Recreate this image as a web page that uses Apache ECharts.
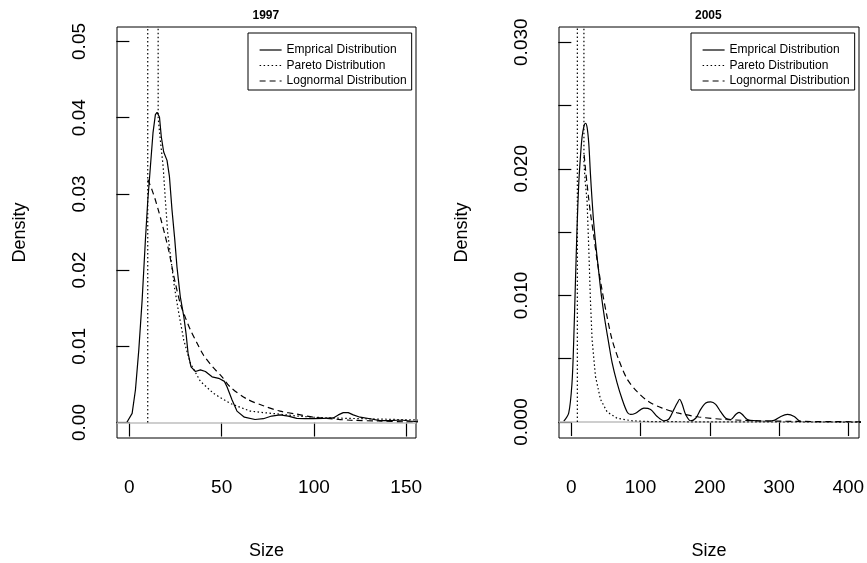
<!DOCTYPE html>
<html>
<head>
<meta charset="utf-8">
<script src="https://cdn.jsdelivr.net/npm/echarts@6/dist/echarts.min.js"></script>
<style>
html,body{margin:0;padding:0;background:#fff;}
#chart{width:867px;height:563px;}
</style>
</head>
<body>
<div id="chart"></div>
<script>
// ---------- DATA ----------
const panelTitles = ['1997', '2005'];
const seriesNames = ['Emprical Distribution', 'Pareto Distribution', 'Lognormal Distribution'];

const xTicks1997 = [0, 50, 100, 150];
const yTicks1997 = [0, 0.01, 0.02, 0.03, 0.04, 0.05];
const xTicks2005 = [0, 100, 200, 300, 400];
const yTicks2005 = [0, 0.005, 0.01, 0.015, 0.02, 0.025, 0.03];
const yLabels2005 = [0, 0.01, 0.02, 0.03];

const emp1997 = [[-1.4,0],[1.5,0.0012],[3.3,0.0043],[5.1,0.0095],[6.9,0.016],[8.7,0.024],[10.0,0.0292],[11.4,0.0336],[12.8,0.038],[14.1,0.0404],[15.0,0.0407],[16.3,0.0401],[17.3,0.0375],[18.6,0.0355],[20.4,0.0344],[21.7,0.0323],[23.1,0.0279],[24.6,0.024],[25.8,0.0204],[27.6,0.0165],[29.5,0.0139],[30.7,0.0117],[31.8,0.0091],[33.4,0.0073],[35.8,0.0067],[38.5,0.0069],[41.2,0.0067],[44.8,0.006],[48.4,0.0058],[51.5,0.0054],[52.9,0.0047],[55.6,0.003],[58.3,0.0015],[62.3,0.0007],[68.1,0.0004],[72.6,0.0005],[77.1,0.00085],[81.6,0.001],[86.1,0.00085],[90.7,0.00055],[95.2,0.0005],[99.7,0.0005],[105.1,0.00055],[110.5,0.0006],[113.2,0.001],[115.9,0.0013],[118.6,0.0013],[121.3,0.001],[125,0.0007],[130.4,0.0005],[135.8,0.00024],[141.2,0.00024],[144.9,0.0003],[148.4,0.0003],[152,0.0002],[156,0.0001],[160,0.0001]];
const par1997 = [[9.95,0],[10.05,5],[15.6,0.040],[16.8,0.037],[18.3,0.0336],[19.5,0.0292],[20.8,0.0248],[22.6,0.0213],[24.4,0.0178],[26.8,0.0143],[29.5,0.0108],[33.0,0.0078],[38.5,0.0054],[45.7,0.0038],[54.7,0.0025],[60,0.002],[65.5,0.0015],[72.6,0.0013],[81.6,0.0011],[90.7,0.00085],[99.7,0.0007],[108.7,0.0006],[126.8,0.0005],[144.9,0.0004],[160,0.0003]];
const logn1997 = [[10.0,0.0319],[12.3,0.0305],[14.1,0.0292],[15.9,0.0277],[17.7,0.0261],[19.5,0.0244],[21.3,0.0226],[23.1,0.0204],[24.9,0.0183],[27.6,0.0156],[30.3,0.0138],[33,0.0122],[36.7,0.0104],[40.3,0.0088],[45.5,0.0072],[50.2,0.006],[54.5,0.0047],[63.6,0.0031],[72.6,0.0022],[81.6,0.0015],[90.7,0.0011],[99.7,0.0007],[108.7,0.0005],[120,0.0003],[135,0.0002],[150,0.0001],[160,0.0001]];

const emp2005 = [[-11,0.00005],[-3.8,0.0007],[1.0,0.0031],[3.5,0.0065],[5.9,0.011],[8.3,0.0154],[10.7,0.0188],[13.1,0.0209],[15.5,0.0225],[18.4,0.0234],[20.4,0.0236],[22.7,0.0233],[25.2,0.022],[27.6,0.0196],[30,0.0175],[32.4,0.0157],[35.7,0.0138],[39.7,0.0118],[43.6,0.0099],[48.3,0.0081],[54.1,0.0062],[58.9,0.0047],[66.1,0.0031],[73.4,0.0018],[80.6,0.0008],[85.5,0.0006],[92.7,0.0007],[104.8,0.0011],[114.5,0.001],[124,0.00044],[133.7,0.0001],[141,0.00024],[148.2,0.001],[153,0.0015],[156.4,0.0018],[160.2,0.0014],[165.1,0.0006],[172.4,0.0001],[179.6,0.0003],[186.8,0.001],[194.1,0.0015],[201.3,0.0016],[208.5,0.0014],[215.8,0.0008],[223,0.0003],[230.2,0.0002],[237.5,0.0006],[242.3,0.00076],[247,0.0006],[254.3,0.0002],[266.4,0.0001],[280.9,0.00005],[292.9,0.00013],[302.6,0.00044],[312.2,0.0006],[321.9,0.00044],[329.1,0.0001],[335.9,0.00002],[420,0]];
const par2005 = [[8.7,0],[8.9,5],[18.2,0.0205],[20,0.019],[22.7,0.0175],[25.2,0.0137],[27.6,0.0096],[30,0.0065],[34.9,0.0036],[42.1,0.0018],[51.7,0.0008],[66.1,0.0003],[87.8,0.0001],[112,0.00004],[200,0.00001],[420,0]];
const logn2005 = [[18.5,0.0211],[20.4,0.02],[22.7,0.0188],[25.2,0.0176],[27.6,0.0165],[32.4,0.0147],[37.2,0.0128],[44.4,0.0104],[51.7,0.0083],[58.9,0.0065],[68.6,0.0049],[80.6,0.0034],[95.1,0.0024],[112,0.0016],[131.3,0.0011],[155.4,0.0007],[184.4,0.0004],[223,0.0002],[270,0.0001],[330,0.00005],[420,0.00002]];

// ---------- STYLE ----------
const FONT = "'Liberation Sans',Arial,sans-serif";
const lineStyles = [
  {color:'#000', width:1.2, type:'solid'},
  {color:'#000', width:1.2, type:[1.5,2.5]},
  {color:'#000', width:1.2, type:[6,4]}
];

const panels = [
  {title: panelTitles[0], grid:{left:117, top:27, width:299, height:411},
   xMin:-6.7, xMax:155.3, yMin:-0.00203, yMax:0.0519,
   xTicks:xTicks1997, yTicks:yTicks1997, yLabels:yTicks1997, yDigits:2,
   data:[emp1997, par1997, logn1997], legendLeft:248},
  {title: panelTitles[1], grid:{left:559, top:27, width:300, height:411},
   xMin:-17.8, xMax:415.5, yMin:-0.00126, yMax:0.0312,
   xTicks:xTicks2005, yTicks:yTicks2005, yLabels:yLabels2005, yDigits:3,
   data:[emp2005, par2005, logn2005], legendLeft:691}
];

const option = {
  animation:false,
  backgroundColor:'#fff',
  textStyle:{fontFamily:FONT, color:'#000'},
  grid:[], xAxis:[], yAxis:[], series:[], legend:[], graphic:[]
};

panels.forEach((p, i) => {
  option.grid.push(Object.assign({show:true, borderColor:'#000', borderWidth:1, backgroundColor:'transparent',
    containLabel:false, outerBoundsMode:'none'}, p.grid));
  option.xAxis.push({
    type:'value', gridIndex:i, min:p.xMin, max:p.xMax,
    name:'Size', nameLocation:'middle', nameGap:104,
    nameTextStyle:{fontFamily:FONT, fontSize:18, color:'#000'},
    axisLine:{show:false},
    axisTick:{show:true, inside:false, length:14, customValues:p.xTicks, lineStyle:{color:'#000', width:1.2}},
    axisLabel:{show:true, customValues:p.xTicks, margin:40, fontFamily:FONT, fontSize:19, color:'#000'},
    splitLine:{show:false}
  });
  option.yAxis.push({
    type:'value', gridIndex:i, min:p.yMin, max:p.yMax,
    name:'Density', nameLocation:'middle', nameGap:88, nameRotate:90,
    nameTextStyle:{fontFamily:FONT, fontSize:18, color:'#000'},
    axisLine:{show:false},
    axisTick:{show:true, inside:false, length:13, customValues:p.yTicks, lineStyle:{color:'#000', width:1.2}},
    axisLabel:{show:true, customValues:p.yLabels, rotate:90, margin:28, fontFamily:FONT, fontSize:19, color:'#000',
      formatter:(v) => Number(v).toFixed(p.yDigits)},
    splitLine:{show:false}
  });
  p.data.forEach((d, k) => {
    const s = {
      name:seriesNames[k], type:'line', xAxisIndex:i, yAxisIndex:i,
      data:d, symbol:'none', showSymbol:false, clip:true,
      lineStyle:lineStyles[k], itemStyle:{color:'#000', opacity:0},
      smooth: (k===0 && i===1) ? 0.3 : (k===2 ? 0.3 : false),
      z: k===0 ? 2 : 4
    };
    if (k===0) {
      s.markLine = {silent:true, symbol:['none','none'], label:{show:false},
        lineStyle:{color:'#bebebe', width:1.5, type:'solid', opacity:1},
        data:[{yAxis:0}], z:3};
    }
    option.series.push(s);
  });
  option.legend.push({
    orient:'vertical', left:p.legendLeft, top:33,
    data:seriesNames.map(n => ({name:n})),
    borderColor:'#000', borderWidth:1, padding:[11,5,3,11],
    itemWidth:22, itemHeight:13, itemGap:3.5, itemTextGap:12,
    itemStyle:{opacity:0, color:'transparent', borderColor:'transparent', borderWidth:0},
    lineStyle:{width:1.2},
    textStyle:{fontFamily:FONT, fontSize:12, color:'#000'},
    selectedMode:false
  });
  option.graphic.push({
    type:'text', left:p.grid.left + p.grid.width/2 - 14, top:10,
    style:{text:p.title, font:"bold 12px " + FONT, fill:'#000'}
  });
});

const chart = echarts.init(document.getElementById('chart'), null, {renderer:'canvas'});
chart.setOption(option);
</script>
</body>
</html>
